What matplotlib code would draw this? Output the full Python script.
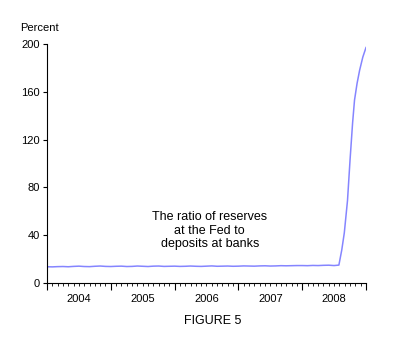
import matplotlib
matplotlib.use("Agg")
import matplotlib.pyplot as plt
import numpy as np

plt.rcParams['font.family'] = ['Liberation Sans', 'DejaVu Sans']

# monthly ratio, Jan 2004 .. Jul 2008 (percent)
monthly_vals = [
    13.6, 13.5, 13.7, 13.8, 13.6, 13.9, 14.1, 13.8, 13.7, 14.0, 14.2, 13.9,
    13.8, 14.0, 14.1, 13.8, 13.9, 14.2, 14.0, 13.8, 14.1, 14.2, 13.9, 14.0,
    14.1, 13.9, 14.0, 14.2, 14.0, 13.9, 14.1, 14.3, 14.0, 14.1, 14.2, 14.0,
    14.1, 14.3, 14.2, 14.1, 14.3, 14.4, 14.2, 14.3, 14.5, 14.4, 14.5, 14.6,
    14.6, 14.5, 14.7, 14.6, 14.8, 14.9, 14.6,
]
monthly_dates = [2004 + i / 12 for i in range(len(monthly_vals))]

# late 2008, weekly-ish readings
late_dates = [2008.575, 2008.62, 2008.66, 2008.71, 2008.75, 2008.79,
              2008.82, 2008.86, 2008.90, 2008.95, 2009.0]
late_vals = [15.0, 27.6, 42, 69, 103, 134, 153, 167, 178, 189, 197]

dates = monthly_dates + late_dates
vals = monthly_vals + late_vals

years = [2004, 2005, 2006, 2007, 2008]
y_ticks = [0, 40, 80, 120, 160, 200]

fig = plt.figure(figsize=(4, 3.5), dpi=100)
ax = fig.add_axes([0.1175, 0.1914, 0.7975, 0.683])

ax.plot(dates, vals, color='#8585ff', linewidth=1.1)

ax.set_xlim(2004, 2009)
ax.set_ylim(0, 200)
ax.spines['top'].set_visible(False)
ax.spines['right'].set_visible(False)

ax.set_yticks(y_ticks)
ax.tick_params(axis='y', length=3, labelsize=8, pad=2)

# year boundaries as major ticks, months as minor ticks
ax.set_xticks(years + [2009])
ax.set_xticklabels([])
ax.set_xticks(np.arange(2004, 2009, 1 / 12), minor=True)
ax.tick_params(axis='x', which='major', length=5, direction='out')
ax.tick_params(axis='x', which='minor', length=2.5, direction='out')

# year labels centred in each year
sec = ax.secondary_xaxis('bottom')
sec.set_xticks([y + 0.5 for y in years])
sec.set_xticklabels([str(y) for y in years])
sec.tick_params(length=0, labelsize=8, pad=8)
sec.spines['bottom'].set_visible(False)

ax.text(2006.55, 43.8, "The ratio of reserves\nat the Fed to\ndeposits at banks",
        ha='center', va='center', fontsize=9, linespacing=1.15)

fig.text(0.05, 0.92, "Percent", fontsize=8, ha='left', va='center')
fig.text(0.5325, 0.0837, "FIGURE 5", fontsize=9, ha='center', va='center')

fig.savefig("out.png", dpi=100)
